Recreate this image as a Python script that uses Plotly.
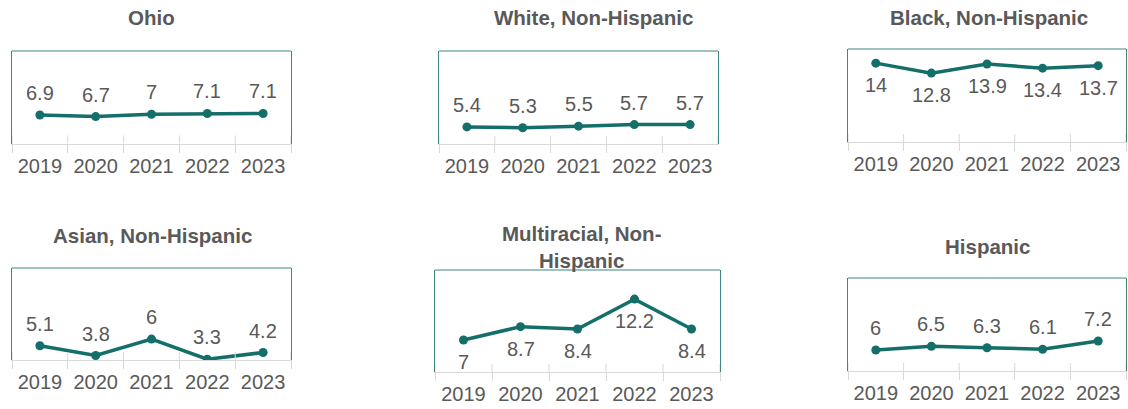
import plotly.graph_objects as go

# Category labels shared by every panel
years = ["2019", "2020", "2021", "2022", "2023"]

# Rates by group
ohio = [6.9, 6.7, 7, 7.1, 7.1]
white_nh = [5.4, 5.3, 5.5, 5.7, 5.7]
black_nh = [14, 12.8, 13.9, 13.4, 13.7]
asian_nh = [5.1, 3.8, 6, 3.3, 4.2]
multi_nh = [7, 8.7, 8.4, 12.2, 8.4]
hispanic = [6, 6.5, 6.3, 6.1, 7.2]

titles = ["Ohio", "White, Non-Hispanic", "Black, Non-Hispanic",
          "Asian, Non-Hispanic", "Multiracial, Non-<br>Hispanic", "Hispanic"]
series = [ohio, white_nh, black_nh, asian_nh, multi_nh, hispanic]

W, H = 1128, 409
TEAL = "#146e69"
FRAME = "#3c8580"
AXIS_GREY = "#d9d9d9"
TEXT = "#595959"
FONT = "Liberation Sans, Arial, sans-serif"

# Panel geometry in pixels: left, right, top, bottom
boxes = [
    (12, 291, 51, 143.5),
    (439, 718, 51, 144),
    (848, 1126, 49, 142),
    (12, 291, 268, 360),
    (435, 720, 270, 372),
    (848, 1126, 278, 371),
]
y_ranges = [
    [3.25, 15.1],
    [3.22, 15.1],
    [4.52, 15.7],
    [3.2, 15.5],
    [2.94, 15.9],
    [3.2, 15.6],
]
title_pos = [(151, 17), (593, 17), (989, 17), (152, 235), (581, 247), (987, 247)]
# Data labels above (+) or below (-) the markers
label_side = [1, 1, -1, 1, -1, 1]


def px_x(v):
    return v / W


def px_y(v):
    return 1 - v / H


fig = go.Figure()
layout = {}
annotations = []
shapes = []

for i, (vals, title) in enumerate(zip(series, titles)):
    n = i + 1
    xa = "x" if n == 1 else f"x{n}"
    ya = "y" if n == 1 else f"y{n}"
    l, r, t, b = boxes[i]

    fig.add_trace(go.Scatter(
        x=years, y=vals, xaxis=xa, yaxis=ya,
        mode="lines+markers",
        line=dict(color=TEAL, width=3.5),
        marker=dict(color=TEAL, size=9),
        hoverinfo="skip", showlegend=False,
    ))

    layout[f"xaxis{n}" if n > 1 else "xaxis"] = dict(
        domain=[px_x(l), px_x(r)], anchor=ya,
        type="category", range=[-0.5, len(years) - 0.5],
        showline=True, linecolor=AXIS_GREY, linewidth=1,
        ticks="outside", tickson="boundaries", ticklen=8,
        tickcolor=AXIS_GREY, tickwidth=1,
        ticklabelstandoff=4,
        showgrid=False, zeroline=False,
        tickfont=dict(family=FONT, size=20, color=TEXT),
        fixedrange=True,
    )
    layout[f"yaxis{n}" if n > 1 else "yaxis"] = dict(
        domain=[px_y(b), px_y(t)], anchor=xa,
        range=y_ranges[i],
        showline=True, mirror=True, linecolor=FRAME, linewidth=1,
        showticklabels=False, ticks="", showgrid=False, zeroline=False,
        fixedrange=True,
    )

    # top edge of the frame
    shapes.append(dict(
        type="line", xref=f"{xa} domain", yref=f"{ya} domain",
        x0=0, x1=1, y0=1, y1=1, line=dict(color=FRAME, width=1),
    ))
    # upper half of the category boundary ticks
    for k in range(len(years) + 1):
        shapes.append(dict(
            type="line", xref=xa, yref=f"{ya} domain",
            xsizemode="scaled", ysizemode="pixel", yanchor=0,
            x0=k - 0.5, x1=k - 0.5, y0=0, y1=8,
            line=dict(color=AXIS_GREY, width=1),
        ))

    # value labels, placed at each category index
    for k, v in enumerate(vals):
        annotations.append(dict(
            xref=xa, yref=ya, x=k, y=v, text=f"{v:g}",
            showarrow=False, yshift=22 * label_side[i],
            xanchor="center", yanchor="middle",
            font=dict(family=FONT, size=20, color=TEXT),
        ))

    cx, cy = title_pos[i]
    annotations.append(dict(
        xref="paper", yref="paper", x=px_x(cx), y=px_y(cy),
        text=f"<b>{title}</b>", showarrow=False,
        xanchor="center", yanchor="middle",
        font=dict(family=FONT, size=20.5, color=TEXT),
    ))

fig.update_layout(
    width=W, height=H,
    margin=dict(l=0, r=0, t=0, b=0),
    paper_bgcolor="white", plot_bgcolor="white",
    annotations=annotations, shapes=shapes,
    **layout,
)

fig.write_html("out.html", config={"displayModeBar": False})
